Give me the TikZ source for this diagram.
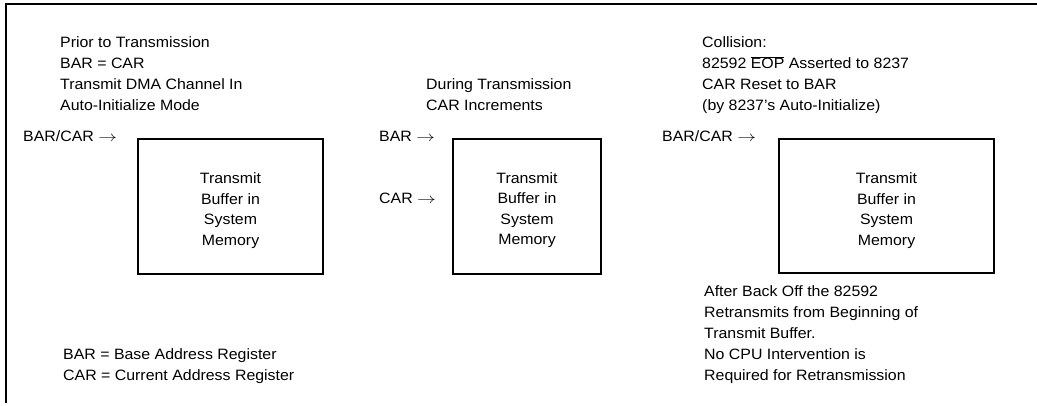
\documentclass[tikz,border=0pt]{standalone}
\usepackage{graphicx}
\usepackage{fontspec}
\setmainfont{Liberation Sans}[FakeStretch=1.06]
\newcommand{\myarrow}{\scalebox{1.3}[1]{$\rightarrow$}}
\begin{document}
\begin{tikzpicture}[x=1pt,y=-1pt,
  txt/.style={inner sep=0pt, font=\fontsize{15}{21}\selectfont, align=left, anchor=base west},
  boxtxt/.style={inner sep=0pt, font=\fontsize{15}{20.5}\selectfont, align=center, anchor=base},
  buf/.style={draw, line width=1.4pt, inner sep=0pt},
  frame/.style={line width=1.4pt}]
\useasboundingbox (0,0) rectangle (1037,406);
\draw[frame] (6,403) -- (6,4) -- (1037,4);
% boxes
\node[buf, minimum width=185pt, minimum height=135pt] (b1) at (230.5,206.5) {};
\node[buf, minimum width=148pt, minimum height=135pt] (b2) at (527,206.5) {};
\node[buf, minimum width=215pt, minimum height=134pt] (b3) at (886.5,206) {};
% box texts (anchor = baseline of last line)
\node[boxtxt] (t1) at (230.5,245.5) {Transmit\\Buffer in\\System\\Memory};
\node[boxtxt] (t2) at (527,245) {Transmit\\Buffer in\\System\\Memory};
\node[boxtxt] (t3) at (886.5,245.5) {Transmit\\Buffer in\\System\\Memory};
% left column
\node[txt] (h1) at (60,111) {Prior to Transmission\\BAR = CAR\\Transmit DMA Channel In\\Auto-Initialize Mode};
\node[txt] (p1) at (23,142) {BAR/CAR \myarrow};
\node[txt] (leg) at (63,381) {BAR = Base Address Register\\CAR = Current Address Register};
% middle column
\node[txt] (h2) at (426,111) {During Transmission\\CAR Increments};
\node[txt] (p2a) at (379,142) {BAR \myarrow};
\node[txt] (p2b) at (379,204) {CAR \myarrow};
% right column
\node[txt] (h3) at (702,111) {Collision:\\82592 $\overline{\hbox{EOP}}$ Asserted to 8237\\CAR Reset to BAR\\(by 8237’s Auto-Initialize)};
\node[txt] (p3) at (662,142) {BAR/CAR \myarrow};
\node[txt] (f3) at (704,380) {After Back Off the 82592\\Retransmits from Beginning of\\Transmit Buffer.\\No CPU Intervention is\\Required for Retransmission};
\end{tikzpicture}
\end{document}
